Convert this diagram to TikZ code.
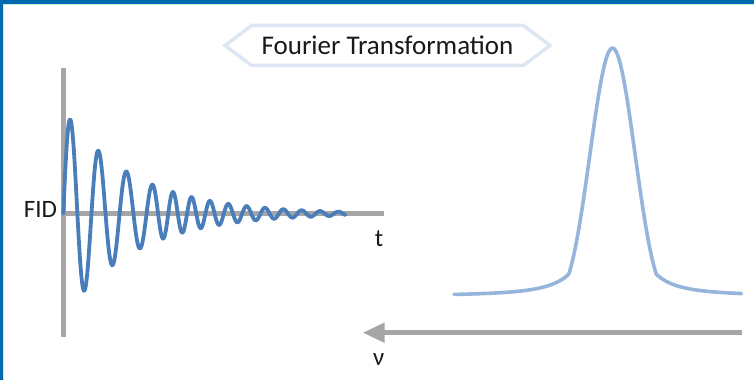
\documentclass[tikz,border=0pt]{standalone}
\usepackage{fontspec}
\setmainfont{Carlito}
\usetikzlibrary{arrows.meta,positioning,shapes.symbols}
\definecolor{frameblue}{RGB}{0,105,175}
\definecolor{framegreen}{RGB}{200,240,212}
\definecolor{fidblue}{RGB}{74,126,187}
\definecolor{peakblue}{RGB}{149,182,218}
\definecolor{axisgray}{RGB}{166,166,166}
\definecolor{hexblue}{RGB}{221,231,243}
\tikzset{
  axisln/.style={line width=4.5pt, axisgray},
  nuarrow/.style={-{Triangle[length=22pt,width=19pt]}, line width=5pt, axisgray},
  fidln/.style={line width=3.8pt, fidblue, line cap=round, line join=round},
  peakln/.style={line width=3.6pt, peakblue, line cap=round, line join=round},
  lbl/.style={inner sep=0pt, text=black!90, font=\fontsize{25}{28}\selectfont},
  titlebox/.style={signal, signal to=west and east, signal pointer angle=74,
    draw=hexblue, line width=3.5pt, fill=white, minimum height=40pt,
    inner xsep=10pt, inner ysep=0pt, text=black!90, font=\fontsize{27}{30}\selectfont},
}
% damped FID signal, t measured from the origin
\newcommand{\softp}[1]{max(#1,0)+ln(1+exp(-abs(#1)))}
\newcommand{\fidcyc}[1]{0.0355*(#1)+0.152*(\softp{((#1)-92)/8})}
\newcommand{\fidy}[1]{166.3+104*exp(-(#1)/70)*sin(360*(\fidcyc{#1}))}
% spectrum line: steep core, broad foot
\newcommand{\pkd}[1]{((#1)-612.5)}
\newcommand{\pkcore}[1]{248*exp(-0.5*(\pkd{#1}/21.5)^2-(\pkd{#1}/52)^6)}
\newcommand{\pkfoot}[1]{min(511/(1+(\pkd{#1}/9.3)^2),30)}
\newcommand{\pky}[1]{83.8+max(\pkcore{#1},\pkfoot{#1})}

\begin{document}
\begin{tikzpicture}[x=1pt, y=1pt]
    \useasboundingbox (0,0) rectangle (754,380);
    % frame
    \fill[framegreen] (0,374.5) rectangle (754,376);
    \fill[framegreen] (2.7,0) rectangle (4,376);
    \fill[frameblue] (0,376) rectangle (754,380);
    \fill[frameblue] (0,0) rectangle (2.7,380);
    % title
    \node[titlebox] (ft) at (387.5,334.5) {Fourier Transformation};
    % FID axes
    \coordinate (O) at (63.3,166.3);
    \coordinate (ytop) at (63.3,311.7);
    \coordinate (ybot) at (63.3,43.3);
    \coordinate (xend) at (384,166.3);
    \draw[axisln] (ybot) -- (ytop);
    \draw[axisln] (O) -- (xend);
    \node[lbl, left=6pt of O, yshift=4.7pt] (fid) {FID};
    \node[lbl] (tlab) at (379,141) {t};
    % the FID curve
    \draw[fidln] plot[domain=0:282, samples=700] ({63.3+\x},{\fidy{\x}});
    % the spectrum
    \draw[peakln] plot[domain=454:741.5, samples=400] (\x,{\pky{\x}});
    % frequency axis
    \coordinate (nuR) at (741.7,47.3);
    \coordinate (nuL) at (362.7,47.3);
    \draw[nuarrow] (nuR) -- (nuL);
    \node[lbl] (nulab) at (378.8,20) {ν};
\end{tikzpicture}
\end{document}
